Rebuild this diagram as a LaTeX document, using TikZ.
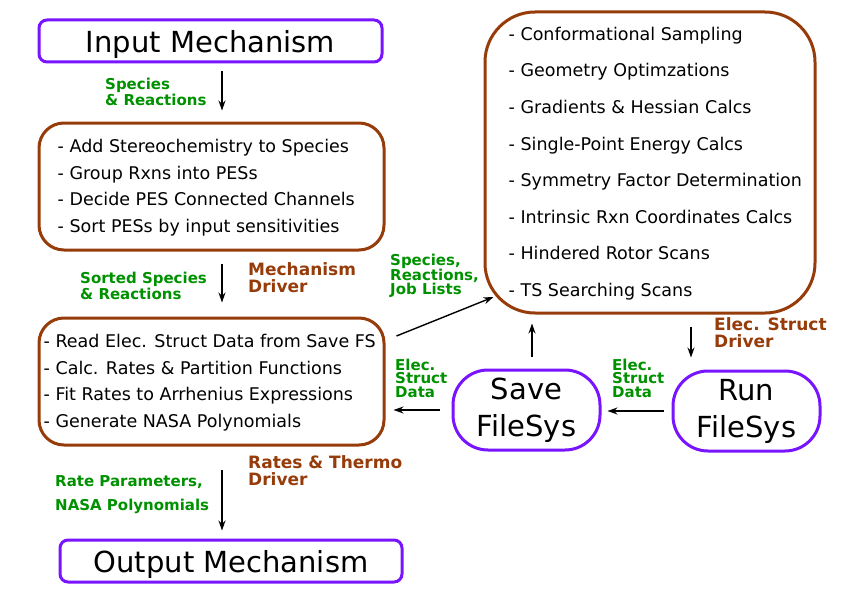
\documentclass[tikz,border=0pt]{standalone}
\usepackage{fontspec}
\setmainfont{DejaVu Sans}
\usetikzlibrary{arrows.meta,calc}
\definecolor{mpurple}{RGB}{120,20,255}
\definecolor{mbrown}{RGB}{150,60,10}
\definecolor{mgreen}{RGB}{0,145,0}
\tikzset{
  pbox/.style={draw=mpurple, line width=3pt, rounded corners=8pt, inner sep=0pt,
    text depth=0pt, font=\fontsize{29}{31}\selectfont},
  fsbox/.style={draw=mpurple, line width=3pt, rounded corners=35pt, inner sep=0pt,
    minimum width=147pt, minimum height=80pt, align=center,
    font=\fontsize{29}{37}\selectfont},
  bbox/.style={draw=mbrown, line width=3pt, inner sep=0pt},
  listtxt/.style={anchor=west, align=left, inner sep=0pt,
    font=\fontsize{17.5}{26.5}\selectfont},
  glab/.style={anchor=west, align=left, inner sep=0pt, text=mgreen,
    font=\bfseries\fontsize{15}{14}\selectfont},
  blab/.style={anchor=west, align=left, inner sep=0pt, text=mbrown,
    font=\bfseries\fontsize{17}{17}\selectfont},
  arr/.style={-{Stealth[length=10pt,width=7pt]}, line width=1.4pt, black}
}
\begin{document}
\begin{tikzpicture}[x=1pt,y=-1pt]
\useasboundingbox (0,0) rectangle (852,602);

% boxes
\node[pbox, minimum width=343pt, minimum height=42pt] (in) at (210.5,41) {Input Mechanism};
\node[pbox, minimum width=342pt, minimum height=42pt] (out) at (231,561) {Output Mechanism};
\node[bbox, rounded corners=25pt, minimum width=345pt, minimum height=127pt] (pes) at (211.5,186.5) {};
\node[bbox, rounded corners=25pt, minimum width=345pt, minimum height=127pt] (rt) at (211.5,381.5) {};
\node[bbox, rounded corners=50pt, minimum width=330pt, minimum height=301pt] (es) at (650,162.5) {};
\node[fsbox] (sv) at (526.5,410) {Save\\FileSys};
\node[fsbox] (run) at (746.5,411) {Run\\FileSys};

% box texts
\node[listtxt] (pestxt) at ([xshift=20pt,yshift=-1pt]pes.west) {- Add Stereochemistry to Species\\- Group Rxns into PESs\\- Decide PES Connected Channels\\- Sort PESs by input sensitivities};
\node[listtxt] (rttxt) at ([xshift=6pt,yshift=-1pt]rt.west) {- Read Elec. Struct Data from Save FS\\- Calc. Rates \& Partition Functions\\- Fit Rates to Arrhenius Expressions\\- Generate NASA Polynomials};
\node[listtxt, font=\fontsize{17.5}{36.6}\selectfont] (estxt) at ([xshift=25pt,yshift=-1pt]es.west) {- Conformational Sampling\\- Geometry Optimzations\\- Gradients \& Hessian Calcs\\- Single-Point Energy Calcs\\- Symmetry Factor Determination\\- Intrinsic Rxn Coordinates Calcs\\- Hindered Rotor Scans\\- TS Searching Scans};

% arrows
\draw[arr, shorten <=8pt, shorten >=11pt] ([xshift=11.5pt]in.south) -- ([xshift=10.5pt]pes.north);
\draw[arr, shorten <=12pt, shorten >=14pt] ([xshift=10.5pt]pes.south) -- ([xshift=10.5pt]rt.north);
\draw[arr, shorten <=23pt, shorten >=8pt] ([xshift=10.5pt]rt.south) -- ([xshift=-9pt]out.north);
\draw[arr] ([xshift=11pt,yshift=45.5pt]rt.east) -- ([xshift=10pt,yshift=-134.5pt]es.west);
\draw[arr, shorten <=12pt, shorten >=9pt] ([xshift=5.5pt]sv.north) -- ([xshift=5.5pt]sv.north |- es.south);
\draw[arr, shorten <=12pt, shorten >=12pt] ([xshift=-55.5pt]run.north |- es.south) -- ([xshift=-55.5pt]run.north);
\draw[arr, shorten <=8pt, shorten >=6pt] (run.west) -- (run.west -| sv.east);
\draw[arr, shorten <=12pt, shorten >=8pt] (sv.west) -- (sv.west -| rt.east);

% labels
\node[glab] (l1) at (105,92) {Species\\\& Reactions};
\node[glab] (l2) at (80,286) {Sorted Species\\\& Reactions};
\node[blab] (l3) at (248,278) {Mechanism\\Driver};
\node[glab, font=\bfseries\fontsize{15}{24}\selectfont] (l4) at (55,495) {Rate Parameters,\\NASA Polynomials};
\node[blab] (l5) at (248,471) {Rates \& Thermo\\Driver};
\node[glab] (l6) at (390,276) {Species,\\Reactions,\\Job Lists};
\node[glab, font=\bfseries\fontsize{15}{13.5}\selectfont] (l7) at (395,378) {Elec.\\Struct\\Data};
\node[glab, font=\bfseries\fontsize{15}{13.5}\selectfont] (l8) at (612,378) {Elec.\\Struct\\Data};
\node[blab] (l9) at (714,333) {Elec. Struct\\Driver};
\end{tikzpicture}
\end{document}
